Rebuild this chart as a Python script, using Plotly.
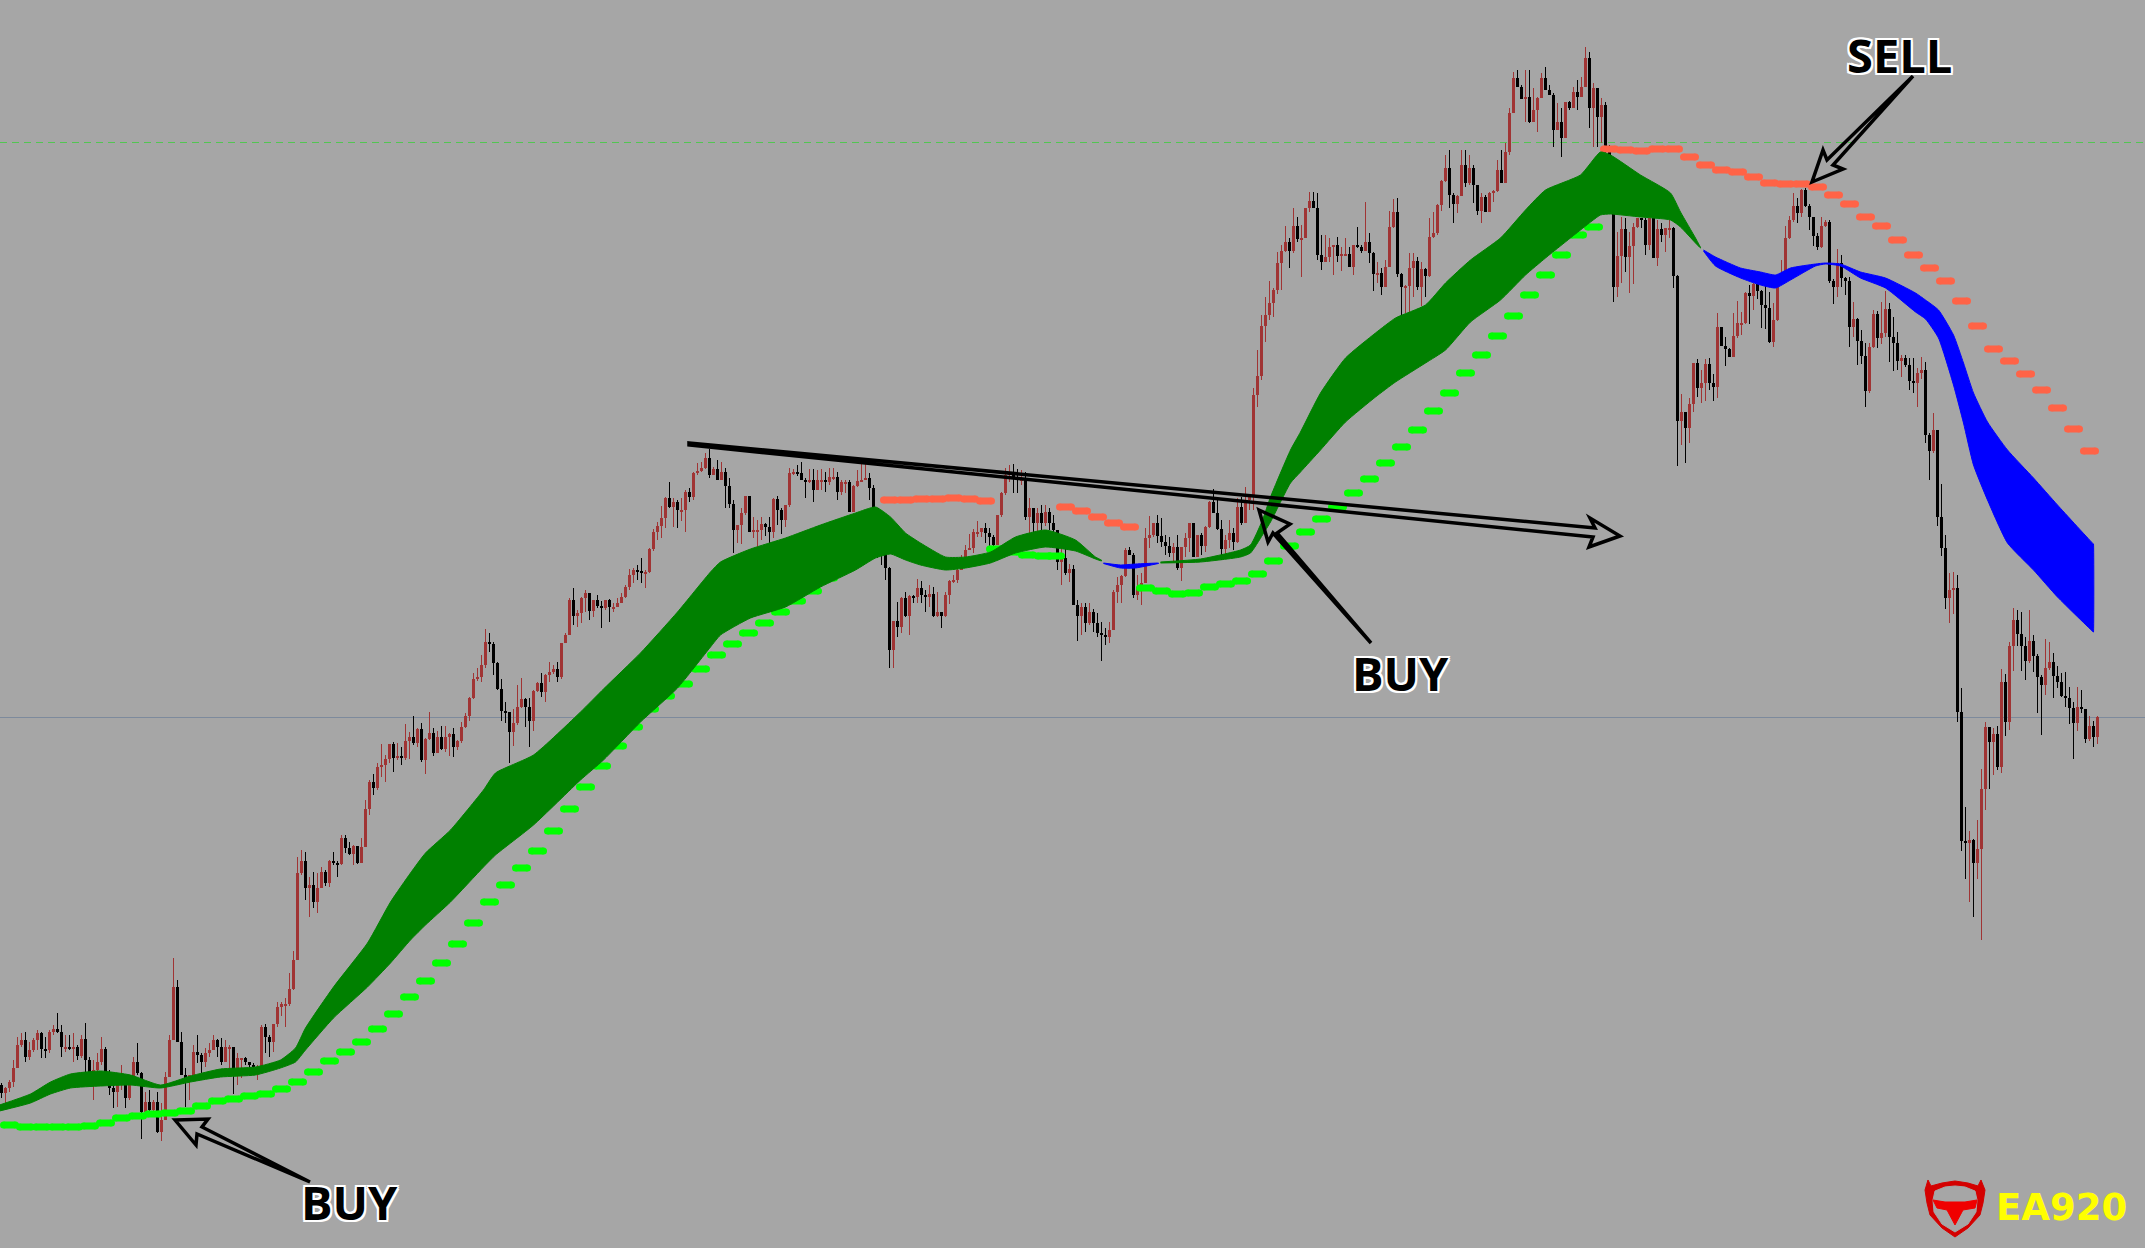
import plotly.graph_objects as go

# Chart levels run downward on the hidden axis (smaller level = higher price).
closes = [
1093,1088,1082,1068,1045,1040,1057,1050,1040,1033,
1049,1050,1032,1029,1032,1047,1047,1048,1047,1056,
1039,1060,1072,1070,1062,1049,1072,1088,1092,1085,
1082,1098,1085,1062,1073,1112,1102,1110,1102,1132,
1120,1077,1040,987,1042,1075,1078,1075,1052,1055,
1062,1053,1050,1040,1047,1062,1047,1047,1073,1058,
1058,1062,1065,1067,1067,1027,1037,1042,1024,1007,
1004,1004,989,960,873,861,888,885,902,888,
872,883,861,863,864,838,848,854,846,863,
847,809,782,788,767,765,759,744,758,756,
758,741,737,743,729,760,739,733,753,737,
749,737,734,747,741,727,716,698,679,677,
665,642,644,663,689,711,712,732,723,707,
699,707,721,691,683,692,675,672,669,677,
643,635,600,616,613,598,593,611,600,606,
608,600,607,607,603,597,587,575,570,571,
572,572,549,532,526,518,498,507,502,510,
510,492,497,473,471,468,458,475,469,480,
472,486,504,530,525,513,496,532,530,530,
524,527,532,499,510,520,505,473,472,473,
480,481,480,490,480,480,482,477,477,492,
482,482,512,486,481,480,478,488,508,530,
550,568,650,621,627,598,616,596,597,588,
595,597,594,616,612,616,595,581,580,570,
560,550,548,532,532,528,533,537,545,515,
493,475,473,477,480,479,517,508,523,513,
523,512,523,530,562,558,573,569,605,616,
607,623,612,623,633,635,637,630,592,585,
576,550,555,595,587,583,538,535,523,536,
542,546,553,547,568,547,538,523,557,535,
546,527,502,513,529,549,540,533,542,507,
523,500,497,395,376,326,315,303,290,263,
251,242,251,226,239,238,208,201,208,255,
262,257,247,245,256,254,254,267,245,247,
251,242,253,274,273,287,267,227,212,274,
287,286,268,261,287,269,276,237,233,205,
181,168,195,204,196,165,183,168,185,211,
197,212,193,191,170,183,152,113,78,87,
99,97,122,110,98,78,90,95,130,122,
138,102,108,92,97,87,58,108,88,117,
105,147,160,287,256,229,257,246,227,218,
220,245,218,258,229,235,228,228,276,421,
412,428,404,363,388,383,364,383,387,327,
346,349,357,336,323,323,293,296,284,291,
305,308,342,320,277,273,238,220,206,213,
190,206,217,236,247,226,222,281,287,263,
278,281,327,319,341,356,391,347,314,338,
333,309,337,343,361,358,365,381,383,373,
370,435,451,430,517,548,598,590,588,712,
841,843,840,863,849,789,727,742,734,767,
682,722,646,620,634,646,661,641,656,677,
685,668,662,676,682,696,698,708,723,707,
709,739,726,737,717]

highs = [
1083,1087,1080,1060,1037,1033,1032,1042,1038,1030,
1032,1037,1030,1025,1013,1025,1035,1035,1033,1045,
1035,1023,1057,1060,1053,1037,1047,1070,1083,1077,
1065,1083,1080,1057,1043,1072,1092,1090,1100,1092,
1103,1072,1035,958,980,1032,1068,1075,1045,1035,
1053,1048,1043,1035,1039,1038,1040,1045,1048,1053,
1058,1057,1062,1063,1065,1025,1024,1035,1024,1002,
1002,998,973,951,857,850,852,877,872,873,
867,870,860,852,861,835,835,842,845,846,
838,800,780,774,763,744,755,744,742,743,
747,724,732,716,728,723,738,712,728,731,
726,726,733,728,740,722,713,697,673,668,
655,629,633,642,662,679,702,713,709,685,
678,698,698,690,682,673,674,662,665,662,
643,633,598,588,610,597,590,593,600,595,
601,600,599,603,598,593,585,569,568,565,
558,570,548,529,522,506,497,482,498,500,
498,490,488,472,463,462,453,449,467,460,
462,468,478,500,525,508,496,496,517,520,
517,523,517,498,496,508,505,468,469,465,
462,478,469,469,470,469,472,468,468,472,
480,480,480,485,470,463,463,473,485,530,
545,555,567,621,602,597,592,595,595,579,
581,590,585,587,592,612,592,580,575,568,
555,545,534,529,521,530,523,528,535,515,
492,468,465,464,469,470,472,498,508,508,
505,505,508,515,540,548,547,564,565,600,
603,603,603,609,613,622,628,622,590,577,
575,548,547,553,575,573,528,516,523,515,
518,535,537,543,535,547,533,523,523,538,
533,526,501,489,500,520,535,520,528,498,
497,487,500,388,350,315,297,281,288,252,
245,226,238,208,217,225,208,192,192,193,
235,235,238,245,237,247,238,247,245,227,
245,202,233,252,262,268,260,211,199,198,
273,285,253,253,257,262,268,218,212,204,
180,155,150,193,195,150,150,155,165,185,
193,195,192,190,160,150,143,108,72,70,
85,70,70,88,97,73,67,85,93,103,
108,102,101,87,80,77,47,52,83,88,
98,102,145,215,232,217,218,232,223,218,
218,218,218,218,220,223,228,220,227,275,
394,412,398,363,359,370,359,358,374,313,
327,337,348,313,301,312,292,285,283,283,
290,285,292,303,277,260,226,216,193,198,
189,188,204,217,233,217,220,220,279,249,
255,277,277,302,318,330,343,343,310,311,
302,291,303,317,332,355,355,358,358,368,
357,362,433,413,430,484,535,573,572,575,
688,807,831,839,820,769,722,727,728,726,
669,674,642,608,610,612,637,610,635,654,
675,639,642,653,666,673,672,687,702,687,
690,709,716,721,716]

lows = [
1098,1103,1092,1087,1068,1047,1062,1060,1052,1050,
1058,1058,1053,1035,1033,1057,1052,1050,1062,1060,
1058,1072,1075,1100,1073,1065,1073,1095,1108,1107,
1090,1108,1100,1083,1075,1139,1112,1112,1113,1133,
1141,1110,1077,1040,1042,1075,1107,1100,1075,1063,
1073,1067,1057,1050,1057,1065,1053,1068,1094,1085,
1078,1065,1068,1068,1080,1050,1053,1057,1052,1027,
1016,1027,1006,990,960,875,900,917,908,913,
888,886,887,865,877,865,853,855,865,864,
863,845,815,795,790,777,782,763,772,760,
765,760,759,745,747,762,774,740,756,752,
750,752,756,757,750,743,728,721,699,681,
682,668,652,675,690,721,723,763,746,725,
708,727,747,731,692,697,702,682,674,682,
679,643,635,625,627,623,612,620,617,608,
628,610,622,612,607,603,598,590,583,580,
583,588,573,551,540,538,528,508,527,528,
521,532,502,500,475,472,469,478,475,480,
480,508,508,553,543,544,515,532,538,547,
540,536,545,538,525,534,527,507,475,476,
480,498,483,502,490,490,492,485,480,500,
495,493,512,512,487,482,480,500,510,558,
565,580,668,668,637,633,617,635,603,603,
603,612,607,617,617,628,617,604,583,583,
565,558,548,553,537,537,543,546,548,534,
517,495,482,493,493,485,520,533,533,532,
530,526,530,532,570,585,575,582,605,641,
635,632,625,632,637,661,645,643,630,603,
603,577,555,598,600,605,580,548,537,543,
547,555,557,563,570,581,557,552,557,557,
555,552,528,513,530,560,555,548,550,543,
525,523,510,510,407,380,342,320,317,294,
290,252,268,253,242,277,238,212,208,260,
270,262,262,275,262,271,255,267,275,248,
253,247,263,291,283,295,287,267,228,277,
316,313,313,297,290,306,297,277,238,235,
211,182,208,223,213,196,187,185,203,215,
223,212,212,202,192,183,183,155,110,87,
99,122,123,122,132,98,90,95,147,130,
157,137,110,108,110,97,87,128,147,147,
143,153,160,302,297,283,272,293,284,228,
228,255,250,258,266,242,252,238,288,466,
445,463,443,412,397,403,401,390,401,398,
346,366,357,338,338,335,324,324,310,299,
328,329,343,347,321,274,261,239,222,223,
217,207,230,246,250,248,227,283,304,297,
287,295,347,337,365,364,407,393,348,348,
344,337,362,371,370,377,367,390,393,407,
379,443,480,453,526,556,609,623,614,722,
851,879,902,917,879,940,810,789,775,770,
773,736,730,671,646,671,680,663,672,713,
735,695,670,698,688,697,707,724,759,731,
713,743,741,747,744]

first_open = 1085

ribbon_a_bar = [-0.5,7.25,12.25,17.25,24.75,32.25,39.75,47.25,54.75,63.5,69.75,73.5,76,83,91.5,97.25,102.25,106,112.25,120.5,123.5,133,144.75,150.5,159.75,169,177.25,179.75,187.25,196,204.75,213.5,218.5,222.25,226,229.75,236,241,247.25,253.5,261,268.5,273.5,275]
ribbon_a_top = [1105,1094,1082,1074,1071,1075,1085,1076,1069,1067,1060,1048,1028,987,943,902,873,853,830,790,773,755,712,689,653,612,572,562,549,538,525,513,507,517,533,543,557,557,552,537,530,540,557,560]
ribbon_a_bot = [1111,1103,1094,1088,1086,1085,1088,1082,1077,1075,1068,1062,1050,1018,987,963,940,925,902,867,855,825,780,760,722,688,647,635,618,607,587,570,558,554,560,565,570,568,563,553,547,551,559,561]

ribbon_b_bar = [275.5,279.75,283.5,289.25]
ribbon_b_top = [563,565,564,563]
ribbon_b_bot = [563.5,568,568,563.5]

ribbon_c_bar = [289.75,299.75,309.75,312.25,315.25,317.25,322.25,324.75,329.75,336,343.5,348.5,356,361,367.25,374.75,381,386,394.75,399.75,402.25,409.75,417.25,419.75,423.5,424.75]
ribbon_c_top = [562,559,550,545,520,497,450,432,393,358,333,318,305,283,260,238,210,190,175,152,155,175,193,212,238,247]
ribbon_c_bot = [563,562,557,553,535,522,483,472,450,422,397,382,363,350,322,300,275,258,230,215,214,217,220,227,243,248]

ribbon_d_bar = [425.5,428.5,434.75,439.75,443.5,447.25,453.5,456,459.75,464.75,471,478.5,481,484.25,488,490.5,493,496.5,501.5,508,514,523]
ribbon_d_top = [250,257,268,272,275,268,264,263,264,272,278,293,300,310,335,363,393,422,450,478,505,544]
ribbon_d_bot = [251,266,278,285,288,280,266,264,266,278,288,312,319,338,385,423,465,500,543,570,597,632]

buy_a_bar = [2,6,10,14,18,22,26,30,34,38,42,46,50,54,58,62,66,70,74,78,82,86,90,94,98,102,106,110,114,118,122,126,130,134,138,142,146,150,154,158,162,166,170.5,174.75,178.75,182.75,186.75,190.75,194.75,198.75,202.75,206.75,211]
buy_a_lvl = [1125,1127,1127,1127,1127,1126,1123,1118,1116,1114,1113,1111,1106,1101,1099,1096,1094,1089,1082,1072,1061,1052,1042,1029,1014,997,981,963,944,923,902,885,868,851,831,809,787,766,746,727,709,696,684,669,655,644,633,623,612,601,591,578,567]
buy_b_bar = [248.5,252.5,256.5,260.5,263.5]
buy_b_lvl = [549,552,555,556,556]
buy_c_bar = [286,290,294,298,302,306,310,314,318,322,326,330,334,338,342,346,350,354,358,362,366,370,374,378,382,386,390,394,398]
buy_c_lvl = [588,591,594,593,587,584,581,574,561,546,532,519,507,493,479,463,447,430,411,393,373,355,336,316,295,275,255,235,227]

sell_a_bar = [222,226,230,234,238,242,246]
sell_a_lvl = [500,500,499,499,498,499,501]
sell_b_bar = [266,270,274,278,282]
sell_b_lvl = [507,511,517,523,527]
sell_c_bar = [402,406,410,414,418,422,426,430,434,438,442,446,450,454,458,462,466,470,474,478,482,486,490,494,498,502,506,510,514,518,522]
sell_c_lvl = [149,150,151,149,149,157,165,170,172,177,183,184,184,187,195,204,217,226,240,255,268,281,301,326,349,361,374,390,408,429,451]

resistance_level = 142.5
pivot_level = 717.5

labels = ["BUY", "BUY", "SELL"]
brand = "EA920"

W, H = 2145, 1248
BG = "#a6a6a6"
RED = "#a03434"
GREEN = "#008000"
BLUE = "#0000ff"
LIME = "#00ff00"
CORAL = "#ff6347"

assert len(closes) == len(highs) == len(lows) == 525

bars = list(range(len(closes)))
opens = [first_open] + closes[:-1]
colors = [RED if c <= o else "#000000" for o, c in zip(opens, closes)]
tops = [min(h, o, c) for h, o, c in zip(highs, opens, closes)]
bottoms = [max(l, o, c) for l, o, c in zip(lows, opens, closes)]

fig = go.Figure()
fig.add_trace(go.Bar(x=bars, base=tops, y=[b - t for t, b in zip(tops, bottoms)], width=0.25,
                     marker=dict(color=colors, line=dict(width=0)), hoverinfo="skip", showlegend=False))
fig.add_trace(go.Bar(x=bars, base=[min(o, c) for o, c in zip(opens, closes)],
                     y=[max(abs(c - o), 2) for o, c in zip(opens, closes)], width=0.75,
                     marker=dict(color=colors, line=dict(width=0)), hoverinfo="skip", showlegend=False))


def dashes(xs, ys, color):
    px, py = [], []
    for a, b in zip(xs, ys):
        px += [a - 1.5, a + 1.5, None]
        py += [b, b, None]
    fig.add_trace(go.Scatter(x=px, y=py, mode="lines+markers", showlegend=False, hoverinfo="skip",
                             line=dict(color=color, width=7),
                             marker=dict(color=color, size=7, line=dict(width=0))))


dashes(buy_a_bar, buy_a_lvl, LIME)
dashes(buy_b_bar, buy_b_lvl, LIME)
dashes(buy_c_bar, buy_c_lvl, LIME)
dashes(sell_a_bar, sell_a_lvl, CORAL)
dashes(sell_b_bar, sell_b_lvl, CORAL)
dashes(sell_c_bar, sell_c_lvl, CORAL)


def ribbon(xs, top, bot, color):
    # A near-repeat of the last knot keeps the smoothed band's end square.
    x2 = xs[:-1] + [xs[-1] - 0.02, xs[-1]]
    t2 = top[:-1] + [top[-1], top[-1]]
    b2 = bot[:-1] + [bot[-1], bot[-1]]
    fig.add_trace(go.Scatter(x=x2 + x2[::-1], y=t2 + b2[::-1], mode="lines", fill="toself",
                             fillcolor=color, line=dict(color=color, width=1, shape="spline", smoothing=0.5),
                             showlegend=False, hoverinfo="skip"))


ribbon(ribbon_a_bar, ribbon_a_top, ribbon_a_bot, GREEN)
ribbon(ribbon_b_bar, ribbon_b_top, ribbon_b_bot, BLUE)
ribbon(ribbon_c_bar, ribbon_c_top, ribbon_c_bot, GREEN)
ribbon(ribbon_d_bar, ribbon_d_top, ribbon_d_bot, BLUE)

fig.add_hline(y=resistance_level, line=dict(color="#52c552", width=1, dash="7px,5px"), layer="below")
fig.add_hline(y=pivot_level, line=dict(color="#7d8a9c", width=1), layer="below")


def path(points):
    s = "M " + " L ".join(f"{x / W:.5f},{1 - y / H:.5f}" for x, y in points) + " Z"
    return s


def outline(points, width=3.5):
    fig.add_shape(type="path", xref="paper", yref="paper", path=path(points), layer="above",
                  line=dict(color="#000000", width=width), fillcolor="rgba(0,0,0,0)")


def solid(points, color):
    fig.add_shape(type="path", xref="paper", yref="paper", path=path(points), layer="above",
                  line=dict(color=color, width=1), fillcolor=color)


outline([(175, 1120), (208, 1119), (202, 1127), (310, 1182), (197, 1134), (196, 1145)])
outline([(1259, 510), (1290, 524), (1277, 533), (1371, 643), (1273, 533), (1268, 542)])
outline([(1812, 182), (1843, 169), (1833, 165), (1913, 76), (1827, 160), (1823, 150)])
outline([(689, 443), (1595, 528), (1590, 518), (1620, 536), (1589, 547), (1593, 537), (689, 445)])

solid([(1928, 1180), (1925, 1190), (1927, 1203), (1930, 1215), (1942, 1228), (1955, 1237), (1968, 1228),
       (1980, 1215), (1983, 1203), (1985, 1190), (1981, 1180), (1978, 1186), (1968, 1183), (1955, 1181),
       (1942, 1183), (1931, 1186)], "#d40000")
solid([(1935, 1191), (1945, 1187), (1955, 1186), (1965, 1187), (1975, 1191), (1977, 1200), (1976, 1212),
       (1968, 1224), (1955, 1232), (1942, 1224), (1934, 1212), (1933, 1200)], BG)
solid([(1933, 1200), (1945, 1202), (1965, 1202), (1977, 1200), (1975, 1208), (1963, 1210), (1955, 1225),
       (1947, 1210), (1937, 1208)], "#f00000")

halo = ",".join(f"{a}px {b}px 0 #ffffff" for a, b in
                [(-2, 0), (2, 0), (0, -2), (0, 2), (-2, -2), (2, 2), (-2, 2), (2, -2)])
for text, cx, cy in zip(labels, [349, 1400, 1899], [1202, 673, 55]):
    fig.add_annotation(text=f"<b>{text}</b>", xref="paper", yref="paper", x=cx / W, y=1 - cy / H,
                       showarrow=False, xanchor="center", yanchor="middle",
                       font=dict(family="Open Sans", size=47, color="#000000", shadow=halo))
fig.add_annotation(text=f"<b>{brand}</b>", xref="paper", yref="paper", x=2061 / W, y=1 - 1207 / H,
                   showarrow=False, xanchor="center", yanchor="middle",
                   font=dict(family="DejaVu Sans", size=37, color="#ffff00"))

fig.update_layout(
    width=W, height=H, margin=dict(l=0, r=0, t=0, b=0), paper_bgcolor=BG, plot_bgcolor=BG,
    showlegend=False, hovermode=False, barmode="overlay", bargap=0,
    xaxis=dict(range=[-0.375, 535.875], visible=False, fixedrange=True),
    yaxis=dict(range=[H, 0], visible=False, fixedrange=True))

fig.write_html("out.html", config=dict(displayModeBar=False),
               post_script="document.body.style.margin='0';document.body.style.overflow='hidden';")
